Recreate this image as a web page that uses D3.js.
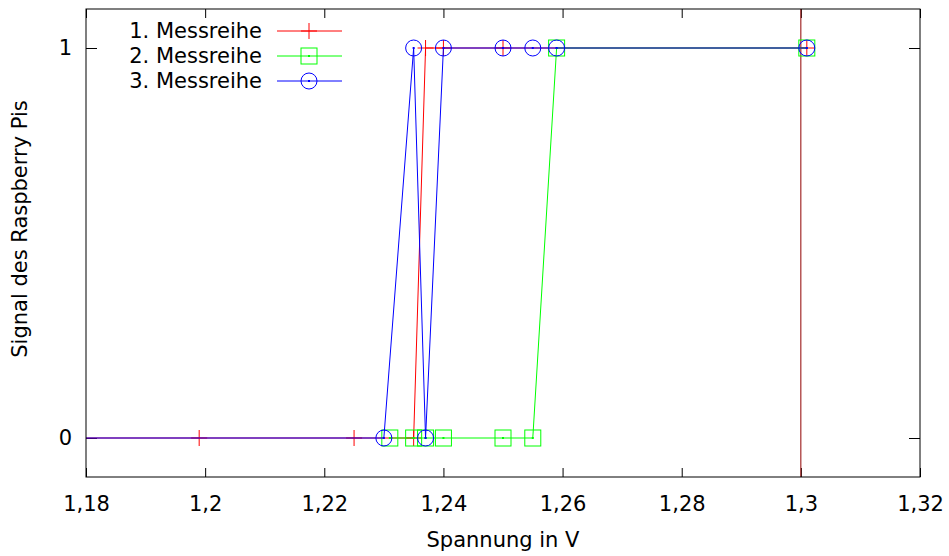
<!DOCTYPE html>
<html>
<head>
<meta charset="utf-8">
<script src="https://cdn.jsdelivr.net/npm/d3@7"></script>
<style>
  body { margin: 0; background: #fff; }
  text { font-family: "DejaVu Sans", sans-serif; fill: #000; }
</style>
</head>
<body>
<div id="app"></div>
<script>
// data
const xTicks = [1.18, 1.2, 1.22, 1.24, 1.26, 1.28, 1.3, 1.32];
const yTicks = [0, 1];

const names = ["1. Messreihe", "2. Messreihe", "3. Messreihe"];
const colors = ["#ff0000", "#00ff00", "#0000ff"];

const x1 = [1.17, 1.199, 1.225, 1.235, 1.237, 1.24, 1.25, 1.301];
const y1 = [0, 0, 0, 0, 1, 1, 1, 1];

const x2 = [1.231, 1.235, 1.237, 1.24, 1.25, 1.255, 1.259, 1.301];
const y2 = [0, 0, 0, 0, 0, 0, 1, 1];

const x3 = [1.17, 1.23, 1.235, 1.237, 1.24, 1.25, 1.255, 1.259, 1.301];
const y3 = [0, 0, 1, 0, 1, 1, 1, 1, 1];

// vertical marker line
const markX = 1.3;

const series = [
  {name: names[0], color: colors[0], pts: x1.map((v, i) => [v, y1[i]]), sym: "plus"},
  {name: names[1], color: colors[1], pts: x2.map((v, i) => [v, y2[i]]), sym: "square"},
  {name: names[2], color: colors[2], pts: x3.map((v, i) => [v, y3[i]]), sym: "circle"}
];

// sizing
const width = 949, height = 556;
const margin = {left: 86, right: 29, top: 9, bottom: 79};
const w = width - margin.left - margin.right;
const h = height - margin.top - margin.bottom;
const fs = "21px";

const svg = d3.select("#app").append("svg")
    .attr("width", width)
    .attr("height", height);

const g = svg.append("g")
    .attr("transform", "translate(" + margin.left + "," + margin.top + ")");

const x = d3.scaleLinear().domain([1.18, 1.32]).range([0, w]);
const y = d3.scaleLinear().domain([-0.1, 1.1]).range([h, 0]);

const fmt = d => d3.format("~g")(d).replace(".", ",");

// clip
svg.append("defs").append("clipPath").attr("id", "clip")
  .append("rect").attr("width", w).attr("height", h);

// axes with inward ticks, mirrored
g.append("g").attr("transform", "translate(0," + h + ")")
    .call(d3.axisBottom(x).tickValues(xTicks).tickSize(-9).tickPadding(19).tickFormat(fmt))
    .call(a => a.select(".domain").remove())
    .selectAll("text").style("font-size", fs);
g.append("g")
    .call(d3.axisTop(x).tickValues(xTicks).tickSize(-9).tickFormat(""))
    .call(a => a.select(".domain").remove());
g.append("g")
    .call(d3.axisLeft(y).tickValues(yTicks).tickSize(-11).tickPadding(14).tickFormat(d3.format("d")))
    .call(a => a.select(".domain").remove())
    .selectAll("text").style("font-size", fs);
g.append("g").attr("transform", "translate(" + w + ",0)")
    .call(d3.axisRight(y).tickValues(yTicks).tickSize(-11).tickFormat(""))
    .call(a => a.select(".domain").remove());
g.selectAll(".tick line").attr("stroke", "#000");
g.selectAll(".tick text").style("font-family", "DejaVu Sans");

// plotting area
const plot = g.append("g").attr("clip-path", "url(#clip)");

plot.append("line")
    .attr("x1", x(markX)).attr("x2", x(markX))
    .attr("y1", 0).attr("y2", h)
    .attr("stroke", "#900000").attr("stroke-width", 1);

function drawSymbol(sel, sym, color) {
  if (sym === "plus") {
    sel.append("line").attr("x1", -8).attr("x2", 8).attr("y1", 0).attr("y2", 0);
    sel.append("line").attr("x1", 0).attr("x2", 0).attr("y1", -8).attr("y2", 8);
  } else if (sym === "square") {
    sel.append("rect").attr("x", -8).attr("y", -8).attr("width", 16).attr("height", 16).attr("fill", "none");
    sel.append("rect").attr("x", -1).attr("y", -1).attr("width", 2).attr("height", 2).attr("fill", color).attr("stroke", "none");
  } else {
    sel.append("circle").attr("r", 8).attr("fill", "none");
    sel.append("rect").attr("x", -1).attr("y", -1).attr("width", 2).attr("height", 2).attr("fill", color).attr("stroke", "none");
  }
  sel.attr("stroke", color).attr("stroke-width", 1);
}

const line = d3.line().x(d => x(d[0])).y(d => y(d[1]));

series.forEach(s => {
  plot.append("path")
      .attr("d", line(s.pts))
      .attr("fill", "none")
      .attr("stroke", s.color)
      .attr("stroke-width", 1);
  plot.selectAll(null).data(s.pts).enter().append("g")
      .attr("transform", d => "translate(" + x(d[0]) + "," + y(d[1]) + ")")
      .each(function() { drawSymbol(d3.select(this), s.sym, s.color); });
});

// border
g.append("rect").attr("width", w).attr("height", h)
    .attr("fill", "none").attr("stroke", "#000").attr("stroke-width", 1);

// legend
const leg = g.append("g");
series.forEach((s, i) => {
  const ly = 22 + i * 25;
  leg.append("text").attr("x", 176).attr("y", ly).attr("dy", "0.35em")
      .attr("text-anchor", "end").style("font-size", fs).text(s.name);
  leg.append("line").attr("x1", 191).attr("x2", 256).attr("y1", ly).attr("y2", ly)
      .attr("stroke", s.color).attr("stroke-width", 1);
  const m = leg.append("g").attr("transform", "translate(223," + ly + ")");
  drawSymbol(m, s.sym, s.color);
});

// axis titles
svg.append("text").attr("x", margin.left + w / 2).attr("y", 547)
    .attr("text-anchor", "middle").style("font-size", fs).text("Spannung in V");
svg.append("text")
    .attr("transform", "translate(27,229) rotate(-90)")
    .attr("text-anchor", "middle").style("font-size", fs).text("Signal des Raspberry Pis");
</script>
</body>
</html>
